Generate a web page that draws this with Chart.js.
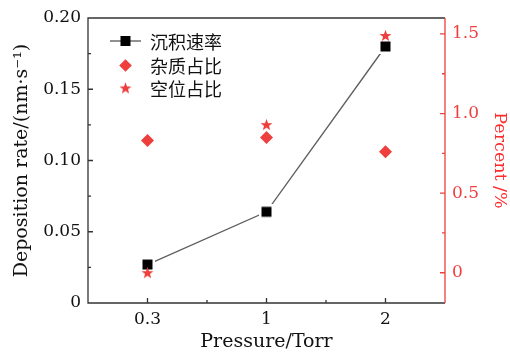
<!DOCTYPE html>
<html><head><meta charset="utf-8">
<script src="https://cdn.jsdelivr.net/npm/chart.js@4.4.0/dist/chart.umd.min.js"></script>
<style>html,body{margin:0;padding:0;background:#fff}#wrap{width:510px;height:354px}</style>
</head><body><div id="wrap"><canvas id="c" width="510" height="354"></canvas></div>
<script>
const categories = ['0.3', '1', '2'];
const depositionRate = [0.027, 0.064, 0.180];
const impurityPercent = [0.83, 0.85, 0.76];
const vacancyPercent = [0.00, 0.93, 1.49];
const leftTicks = [0, 0.05, 0.10, 0.15, 0.20];
const rightTicks = [0, 0.5, 1.0, 1.5];
const seriesNames = ['沉积速率', '杂质占比', '空位占比'];

const RED = '#ee3e3e';
const RED_TITLE = '#ff2a2a';
const SERIF = '"DejaVu Serif", serif';
const CJK = '"Noto Sans CJK SC", sans-serif';
const TICK_FONT = { family: SERIF, size: 17 };
const TITLE_FONT = { family: SERIF, size: 19 };
const RIGHT_TITLE_FONT = { family: SERIF, size: 17.5 };

function makeSquare() {
  const c = document.createElement('canvas'); c.width = 15; c.height = 15;
  const g = c.getContext('2d');
  g.fillStyle = '#fff'; g.fillRect(0, 0, 15, 15);
  g.fillStyle = '#000'; g.fillRect(2.5, 2.5, 10, 10);
  return c;
}
function makeStar() {
  const c = document.createElement('canvas'); c.width = 13; c.height = 13;
  const g = c.getContext('2d');
  g.fillStyle = RED; g.beginPath();
  const cx = 6.5, cy = 7, R = 6.3, r = 2.6;
  for (let i = 0; i < 10; i++) {
    const a = -Math.PI / 2 + i * Math.PI / 5;
    const rr = i % 2 ? r : R;
    const px = cx + rr * Math.cos(a), py = cy + rr * Math.sin(a);
    i ? g.lineTo(px, py) : g.moveTo(px, py);
  }
  g.closePath(); g.fill();
  return c;
}
const squareImg = makeSquare();
const starImg = makeStar();

const framePlugin = {
  id: 'frame',
  afterDraw(chart) {
    const { ctx, chartArea: { left, right, top, bottom }, scales: { x, y, y1 } } = chart;
    ctx.save();
    ctx.lineWidth = 1.3;
    ctx.strokeStyle = '#333';
    ctx.beginPath();
    ctx.moveTo(right, top); ctx.lineTo(left, top); ctx.lineTo(left, bottom); ctx.lineTo(right, bottom);
    leftTicks.forEach(v => { const p = y.getPixelForValue(v); ctx.moveTo(left, p); ctx.lineTo(left + 5, p); });
    for (let i = 0; i < leftTicks.length - 1; i++) {
      const p = y.getPixelForValue((leftTicks[i] + leftTicks[i + 1]) / 2);
      ctx.moveTo(left, p); ctx.lineTo(left + 3, p);
    }
    categories.forEach((c, i) => { const p = x.getPixelForValue(i); ctx.moveTo(p, bottom); ctx.lineTo(p, bottom - 5); });
    for (let i = 0; i < categories.length - 1; i++) {
      const p = (x.getPixelForValue(i) + x.getPixelForValue(i + 1)) / 2;
      ctx.moveTo(p, bottom); ctx.lineTo(p, bottom - 3);
    }
    ctx.stroke();
    ctx.strokeStyle = RED;
    ctx.beginPath();
    ctx.moveTo(right, top); ctx.lineTo(right, bottom);
    rightTicks.forEach(v => { const p = y1.getPixelForValue(v); ctx.moveTo(right, p); ctx.lineTo(right - 5, p); });
    for (let i = 0; i < rightTicks.length; i++) {
      const v = rightTicks[i] + 0.25;
      if (v < y1.max) { const p = y1.getPixelForValue(v); ctx.moveTo(right, p); ctx.lineTo(right - 3, p); }
    }
    ctx.stroke();
    // legend
    const lx = 125.5, rows = [41, 65.5, 88.5];
    ctx.strokeStyle = '#555'; ctx.lineWidth = 1.3;
    ctx.beginPath(); ctx.moveTo(110, rows[0]); ctx.lineTo(141, rows[0]); ctx.stroke();
    ctx.fillStyle = '#000'; ctx.fillRect(lx - 5, rows[0] - 5, 10, 10);
    ctx.fillStyle = RED; ctx.beginPath();
    const d = 6.3;
    ctx.moveTo(lx - d, rows[1]); ctx.lineTo(lx, rows[1] - d); ctx.lineTo(lx + d, rows[1]); ctx.lineTo(lx, rows[1] + d); ctx.closePath(); ctx.fill();
    ctx.drawImage(starImg, lx - 6.5, rows[2] - 7);
    ctx.fillStyle = '#111'; ctx.font = '18px ' + CJK; ctx.textBaseline = 'middle'; ctx.textAlign = 'left';
    seriesNames.forEach((n, i) => ctx.fillText(n, 150, rows[i] + 1));
    ctx.restore();
  }
};

new Chart(document.getElementById('c'), {
  type: 'line',
  data: {
    labels: categories,
    datasets: [
      { label: seriesNames[0], data: depositionRate, yAxisID: 'y', order: 2,
        borderColor: '#606060', borderWidth: 1.4, pointStyle: squareImg, pointRadius: 7, fill: false, tension: 0 },
      { label: seriesNames[1], data: impurityPercent, yAxisID: 'y1', order: 1, showLine: false,
        pointStyle: 'rectRot', pointRadius: 6.5, pointBorderWidth: 0, pointBackgroundColor: RED, borderColor: RED },
      { label: seriesNames[2], data: vacancyPercent, yAxisID: 'y1', order: 0, showLine: false,
        pointStyle: starImg, pointRadius: 6.5, borderColor: RED }
    ]
  },
  options: {
    responsive: false, animation: false,
    layout: { padding: { top: 18, left: 0, right: 0, bottom: 0 } },
    plugins: { legend: { display: false }, tooltip: { enabled: false } },
    scales: {
      x: {
        type: 'category', offset: true,
        grid: { display: false, drawTicks: false }, border: { display: false },
        ticks: { color: '#111', font: TICK_FONT, padding: 6 },
        title: { display: true, text: 'Pressure/Torr', color: '#111', font: TITLE_FONT, padding: { top: 0, bottom: 1 } },
        afterFit: s => { s.height = 51; }
      },
      y: {
        position: 'left', min: 0, max: 0.2,
        afterBuildTicks: s => { s.ticks = leftTicks.map(v => ({ value: v })); },
        grid: { display: false, drawTicks: false }, border: { display: false },
        ticks: { color: '#111', font: TICK_FONT, padding: 7,
          callback: v => v === 0 ? '0' : v.toFixed(2) },
        title: { display: true, text: 'Deposition rate/(nm·s⁻¹)', color: '#111', font: TITLE_FONT, padding: { top: 11, bottom: 0 } },
        afterFit: s => { s.width = 88; }
      },
      y1: {
        position: 'right', min: -0.19, max: 1.6,
        afterBuildTicks: s => { s.ticks = rightTicks.map(v => ({ value: v })); },
        grid: { display: false, drawTicks: false }, border: { display: false },
        ticks: { color: RED, font: TICK_FONT, padding: 7,
          callback: v => v === 0 ? '0' : v.toFixed(1) },
        title: { display: true, text: 'Percent /%', color: RED_TITLE, font: RIGHT_TITLE_FONT, padding: { top: 0, bottom: 0 } },
        afterFit: s => { s.width = 65; }
      }
    }
  },
  plugins: [framePlugin]
});
</script></body></html>
